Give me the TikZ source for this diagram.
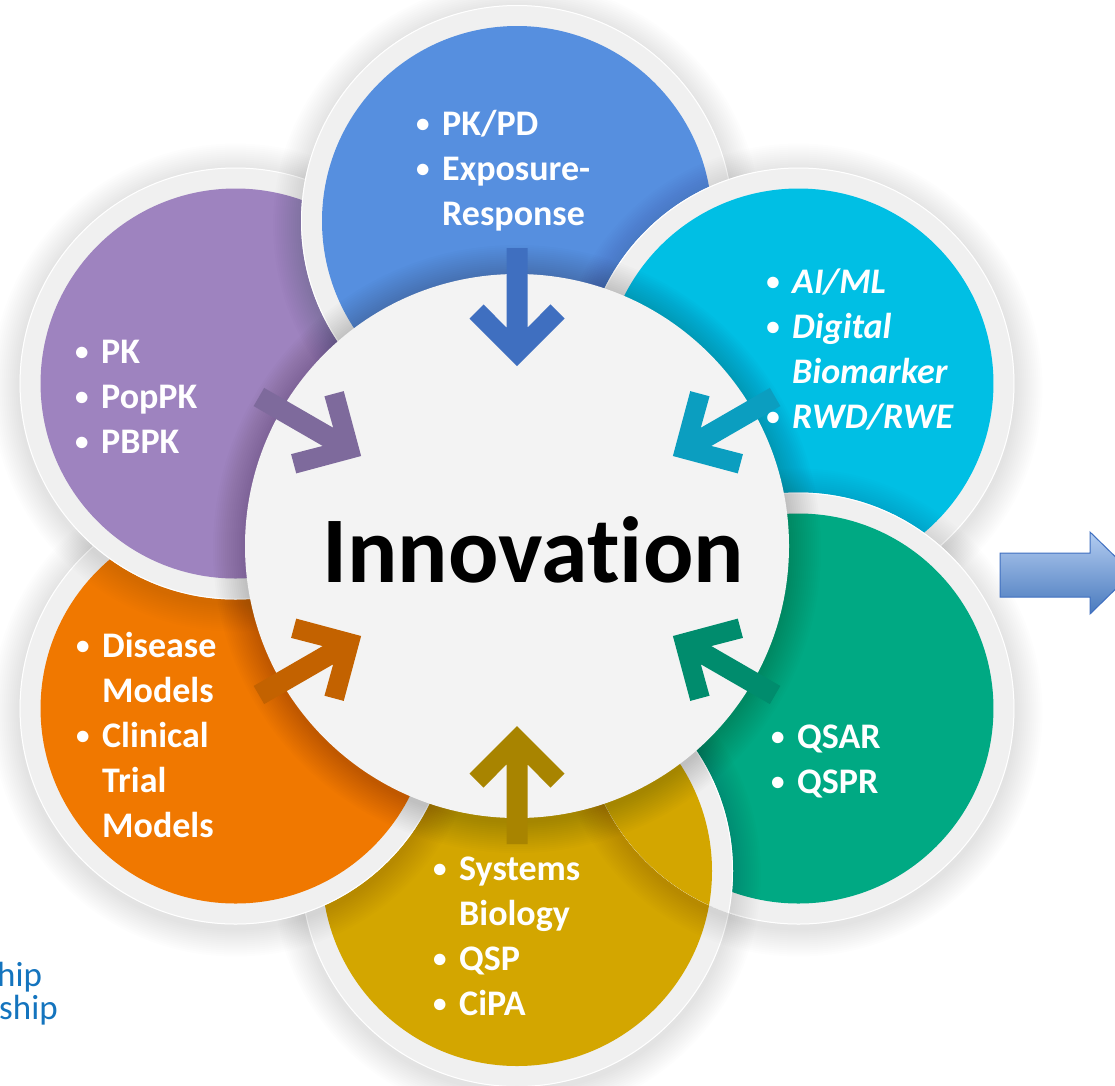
\documentclass[tikz,border=0pt]{standalone}
\usepackage{fontspec}
\setmainfont{Carlito}[Ligatures={NoCommon,NoContextual}]
\usetikzlibrary{calc}

\definecolor{cblue}{HTML}{568FDF}
\definecolor{ccyan}{HTML}{00BFE4}
\definecolor{cgreen}{HTML}{00A983}
\definecolor{cyellow}{HTML}{D3A600}
\definecolor{corange}{HTML}{F07800}
\definecolor{cpurple}{HTML}{9E83BF}
\definecolor{ablue}{HTML}{3F6FC0}
\definecolor{acyan}{HTML}{0B9EC0}
\definecolor{agreen}{HTML}{008C6D}
\definecolor{ayellow}{HTML}{A88400}
\definecolor{aorange}{HTML}{C36200}
\definecolor{apurple}{HTML}{7E6A9C}
\definecolor{ringgrey}{HTML}{F0F0F0}
\definecolor{hubgrey}{HTML}{F3F3F3}
\definecolor{linkblue}{HTML}{1474BE}

% small bullet with a hanging indent
\newcommand\bul{\makebox[26pt][l]{\raisebox{2.5pt}{\fontsize{27}{27}\selectfont •}}}

% soft shadow, grey rim and coloured disc of one satellite circle
\newcommand\bubble[2]{%
  \foreach \k in {1,...,14}{\fill[black,opacity=0.008] ($(#1)+(0,4)$) circle ({216pt+2pt*\k});}
  \fill[ringgrey] (#1) circle (216pt);
  \draw[white,line width=1pt] (#1) circle (215.5pt);
  \fill[#2] (#1) circle (195pt);
}

% chevron arrow pointing at the hub from direction #1
\newcommand\inarrow[2]{%
  \begin{scope}[shift={($(C)+(#1:180pt)$)}, rotate=#1+180]
    \fill[#2] (0,0) -- (-47.5,47.5) -- (-61.6,33.4) -- (-38.3,10.5) -- (-118,10.5)
      -- (-118,-10.5) -- (-38.3,-10.5) -- (-61.6,-33.4) -- (-47.5,-47.5) -- cycle;
  \end{scope}
}

\tikzset{
  item/.style={text=white, inner sep=0pt, anchor=base west,
    font=\fontsize{36}{45}\selectfont\bfseries},
  itemit/.style={item, font=\fontsize{36}{45}\selectfont\bfseries\itshape},
  linktext/.style={text=linkblue, inner sep=0pt, anchor=base west,
    font=\fontsize{35}{40}\selectfont},
}

\begin{document}
\begin{tikzpicture}[x=1pt,y=-1pt]
\path[use as bounding box] (0,0) rectangle (1115,1085);
\clip (0,0) rectangle (1115,1085);
\fill[white] (0,0) rectangle (1115,1085);

\coordinate (C) at (517,546);
\coordinate (B) at ($(C)+(90:325pt)$);
\coordinate (Cy) at ($(C)+(30:325pt)$);
\coordinate (G) at ($(C)+(-30:325pt)$);
\coordinate (Y) at ($(C)+(-90:325pt)$);
\coordinate (O) at ($(C)+(210:325pt)$);
\coordinate (P) at ($(C)+(150:325pt)$);

% satellites, each overlapping the previous one clockwise
\bubble{Y}{cyellow}
\bubble{O}{corange}
\bubble{P}{cpurple}
\bubble{B}{cblue}
\bubble{Cy}{ccyan}
\bubble{G}{cgreen}
\begin{scope}
  \clip (G) circle (216pt);
  \bubble{Y}{cyellow}
\end{scope}

% hub
\foreach \k in {1,...,16}{\fill[black,opacity=0.011] ($(C)+(0,3)$) circle ({272pt+2pt*\k});}
\fill[hubgrey] (C) circle (272pt);

\inarrow{90}{ablue}
\inarrow{30}{acyan}
\inarrow{-30}{agreen}
\inarrow{-90}{ayellow}
\inarrow{210}{aorange}
\inarrow{150}{apurple}

\node[inner sep=0pt, anchor=base, font=\fontsize{94}{110}\selectfont\bfseries] (hub) at (533,582) {Innovation};

\node[item] (tblue) at (416,135) {\begin{tabular}[t]{@{}l@{}l@{}}\bul & PK/PD\\ \bul & Exposure-\\ & Response\end{tabular}};
\node[item] (tpurple) at (75,363) {\begin{tabular}[t]{@{}l@{}l@{}}\bul & PK\\ \bul & PopPK\\ \bul & PBPK\end{tabular}};
\node[itemit] (tcyan) at (766,293) {\begin{tabular}[t]{@{}l@{}l@{}}\bul & AI/ML\\ \bul & Digital\\ & Biomarker\\ \bul & RWD/RWE\end{tabular}};
\node[item] (tgreen) at (771,748) {\begin{tabular}[t]{@{}l@{}l@{}}\bul & QSAR\\ \bul & QSPR\end{tabular}};
\node[item] (tyellow) at (433,880) {\begin{tabular}[t]{@{}l@{}l@{}}\bul & Systems\\ & Biology\\ \bul & QSP\\ \bul & CiPA\end{tabular}};
\node[item] (torange) at (76,657) {\begin{tabular}[t]{@{}l@{}l@{}}\bul & Disease\\ & Models\\ \bul & Clinical\\ & Trial\\ & Models\end{tabular}};

% outgoing block arrow
\path[top color=cblue!45!white, bottom color=cblue!85!black, draw=ablue, line width=1pt]
  (1000,553) -- (1090,553) -- (1090,532) -- (1132,573) -- (1090,614) -- (1090,597) -- (1000,597) -- cycle;

\node[linktext] (l1) at (-3,986) {hip};
\node[linktext] (l2) at (-1,1019) {ship};
\end{tikzpicture}
\end{document}
